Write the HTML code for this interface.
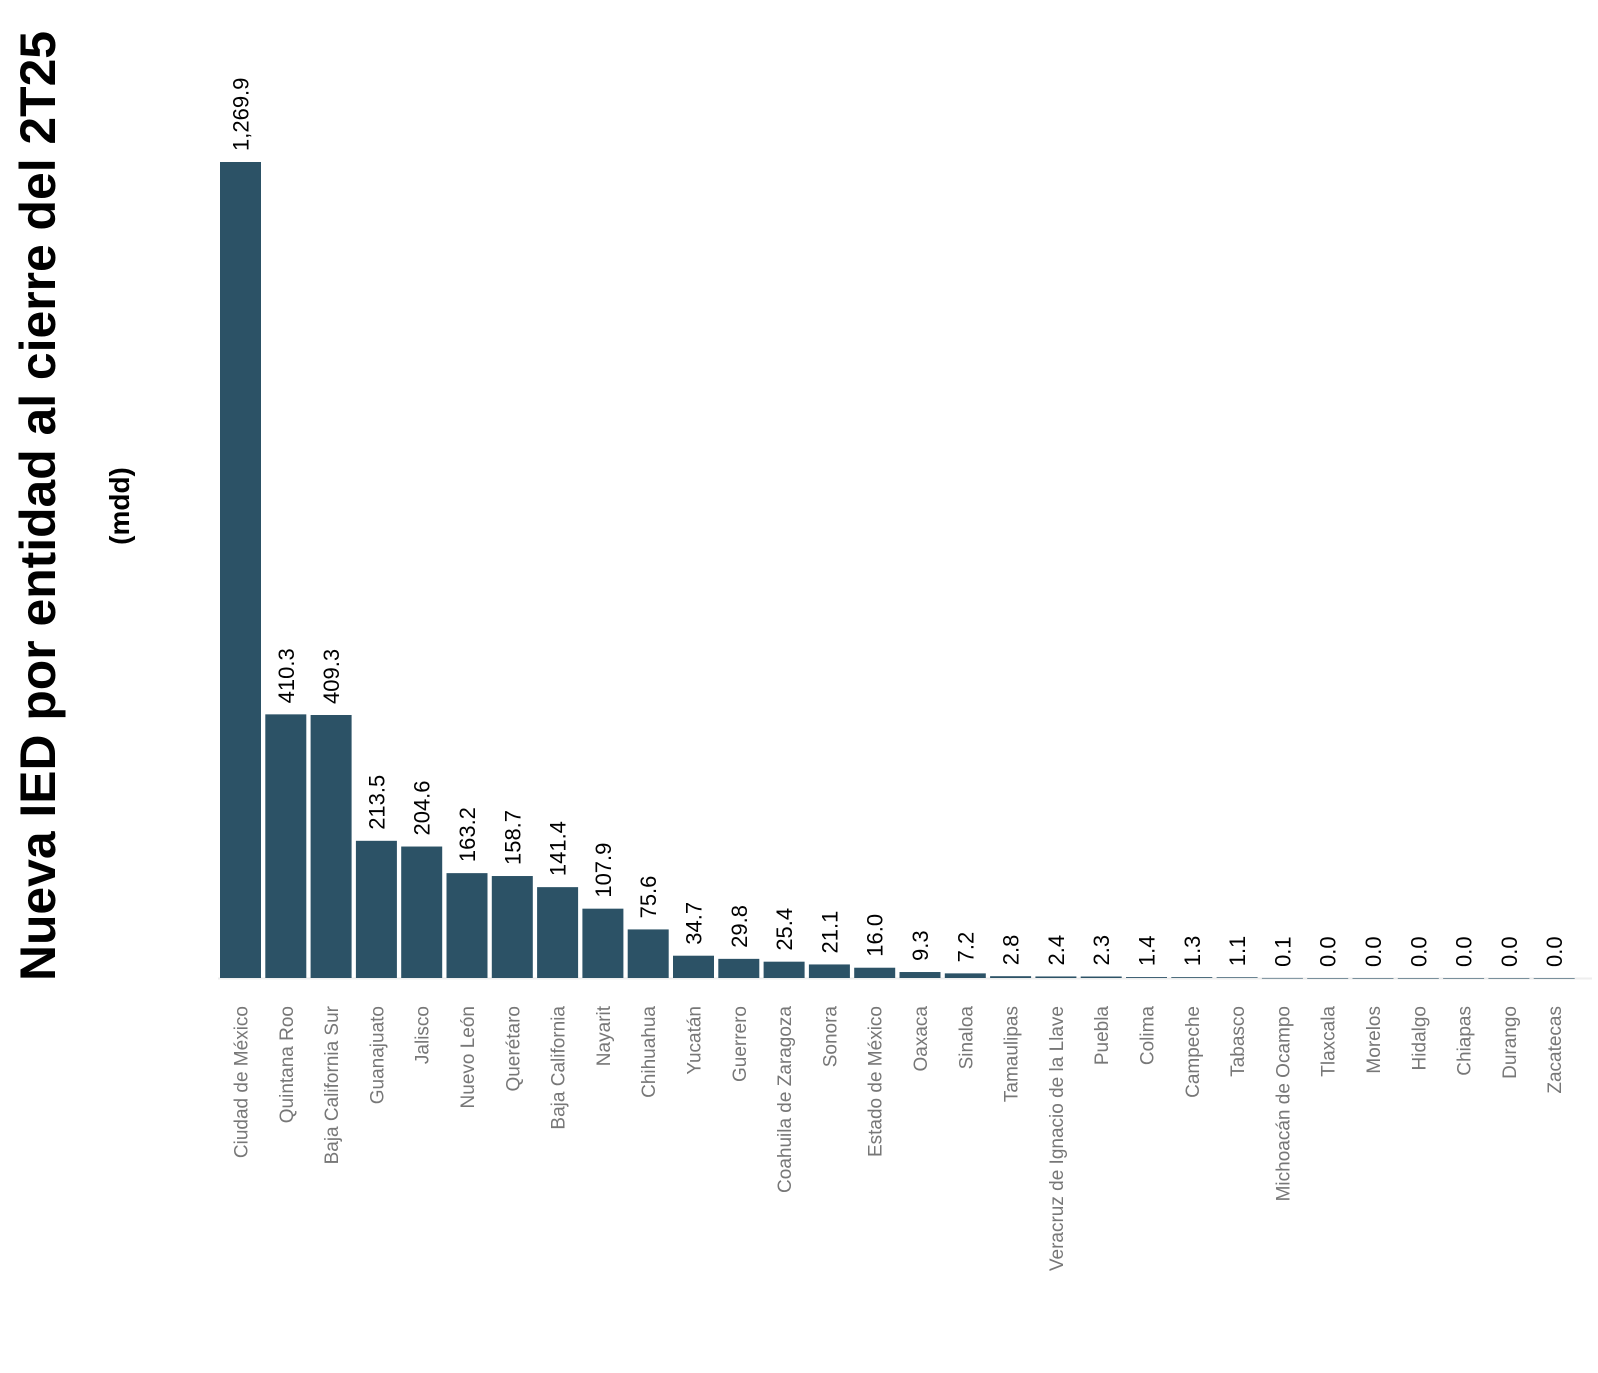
<!DOCTYPE html>
<html><head><meta charset="utf-8"><style>
html,body{margin:0;padding:0;background:#fff;}
svg{display:block;font-family:"Liberation Sans",sans-serif;}
</style></head><body>
<svg id="chart" width="1598" height="1373" viewBox="0 0 1598 1373" xmlns="http://www.w3.org/2000/svg">
<text transform="translate(55,506) rotate(-90)" text-anchor="middle" font-size="50" font-weight="bold" fill="#000" textLength="950" lengthAdjust="spacingAndGlyphs">Nueva IED por entidad al cierre del 2T25</text>
<text transform="translate(129,506) rotate(-90)" text-anchor="middle" font-size="28" font-weight="bold" fill="#000">(mdd)</text>
<line x1="218" y1="978.5" x2="1592" y2="978.5" stroke="#eeeeee" stroke-width="2"/>
<g id="bars"></g>
</svg>
<script>
const categories = ["Ciudad de México","Quintana Roo","Baja California Sur","Guanajuato","Jalisco","Nuevo León","Querétaro","Baja California","Nayarit","Chihuahua","Yucatán","Guerrero","Coahuila de Zaragoza","Sonora","Estado de México","Oaxaca","Sinaloa","Tamaulipas","Veracruz de Ignacio de la Llave","Puebla","Colima","Campeche","Tabasco","Michoacán de Ocampo","Tlaxcala","Morelos","Hidalgo","Chiapas","Durango","Zacatecas"];
const values = [1269.9,410.3,409.3,213.5,204.6,163.2,158.7,141.4,107.9,75.6,34.7,29.8,25.4,21.1,16.0,9.3,7.2,2.8,2.4,2.3,1.4,1.3,1.1,0.1,0.0,0.0,0.0,0.0,0.0,0.0];
const valueLabels = ["1,269.9","410.3","409.3","213.5","204.6","163.2","158.7","141.4","107.9","75.6","34.7","29.8","25.4","21.1","16.0","9.3","7.2","2.8","2.4","2.3","1.4","1.3","1.1","0.1","0.0","0.0","0.0","0.0","0.0","0.0"];

const NS = "http://www.w3.org/2000/svg";
const x0 = 220, pitch = 45.3, bw = 41, base = 978, yMax = 1269.9, hMax = 816;
function xScale(i){ return x0 + i * pitch; }
function yScale(v){ return base - v / yMax * hMax; }
const g = document.getElementById("bars");
categories.forEach((c, i) => {
  const x = xScale(i), y = yScale(values[i]), cx = x + bw / 2;
  const r = document.createElementNS(NS, "rect");
  
  
  r.setAttribute("x", x); r.setAttribute("y", y);
  r.setAttribute("width", bw); r.setAttribute("height", Math.max(base - y, 0.6));
  r.setAttribute("fill", "#2c5266");
  g.appendChild(r);
  const vl = document.createElementNS(NS, "text");
  
  
  vl.setAttribute("transform", `translate(${cx + 8},${y - 11}) rotate(-90)`);
  vl.setAttribute("font-size", "22"); vl.setAttribute("fill", "#000");
  vl.textContent = valueLabels[i];
  g.appendChild(vl);
  const cl = document.createElementNS(NS, "text");
  
  
  cl.setAttribute("transform", `translate(${cx + 7},1006) rotate(-90)`);
  cl.setAttribute("text-anchor", "end");
  cl.setAttribute("font-size", "19"); cl.setAttribute("fill", "#777");
  cl.textContent = c;
  g.appendChild(cl);
});
</script>
</body></html>
